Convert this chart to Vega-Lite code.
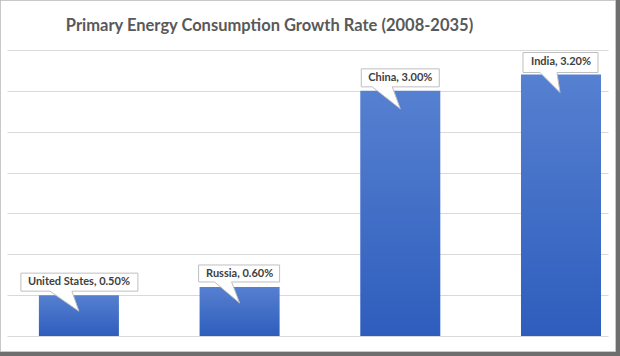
{
  "$schema": "https://vega.github.io/schema/vega-lite/v6.json",
  "width": 615,
  "height": 351,
  "autosize": "none",
  "padding": {"left": 0, "top": 0, "right": 5, "bottom": 5},
  "background": "#6e6e6e",
  "config": {"view": {"fill": "white", "stroke": "#c8c8c8", "strokeWidth": 1}},
  "title": {
    "text": "Primary Energy Consumption Growth Rate (2008-2035)",
    "anchor": "middle",
    "offset": -34,
    "dx": -38,
    "font": "Lato",
    "fontSize": 16.5,
    "fontWeight": "bold",
    "color": "#595959"
  },
  "data": {
    "values": [
      {"country": "United States", "value": 0.5, "label": "United States, 0.50%"},
      {"country": "Russia", "value": 0.6, "label": "Russia, 0.60%"},
      {"country": "China", "value": 3.0, "label": "China, 3.00%"},
      {"country": "India", "value": 3.2, "label": "India, 3.20%"}
    ]
  },
  "encoding": {
    "x": {
      "field": "country",
      "type": "nominal",
      "sort": null,
      "axis": null,
      "scale": {"range": [7, 608], "paddingInner": 0.502, "paddingOuter": 0.121, "align": 0.82}
    },
    "y": {
      "field": "value",
      "type": "quantitative",
      "scale": {"domain": [0, 3.5], "range": [336, 50], "nice": false, "zero": true},
      "axis": {
        "title": null,
        "labels": false,
        "ticks": false,
        "domain": false,
        "grid": true,
        "gridColor": "#d9d9d9",
        "gridWidth": 1,
        "values": [0, 0.5, 1, 1.5, 2, 2.5, 3, 3.5]
      }
    }
  },
  "layer": [
    {
      "mark": {
        "type": "bar",
        "color": {
          "gradient": "linear",
          "x1": 0, "y1": 0, "x2": 0, "y2": 1,
          "stops": [
            {"offset": 0, "color": "#5680d0"},
            {"offset": 1, "color": "#2e5dbd"}
          ]
        }
      }
    },
    {
      "mark": {
        "type": "point",
        "filled": true,
        "size": 4,
        "fill": "white",
        "stroke": "#bfbfbf",
        "strokeWidth": 1,
        "opacity": 1
      },
      "encoding": {
        "shape": {
          "field": "country",
          "type": "nominal",
          "legend": null,
          "scale": {
            "domain": ["United States", "Russia", "China", "India"],
            "range": [
              "M-58,-22H59V-4H-7L0,16L-29,-4H-58Z",
              "M-41,-22H40V-5H-8L0,16L-25,-5H-41Z",
              "M-39,-22H39V-4H-8L0,18L-28,-4H-39Z",
              "M-38,-22H37V-2H-4L-1,18L-21,-2H-38Z"
            ]
          }
        }
      }
    },
    {
      "mark": {
        "type": "text",
        "font": "Lato",
        "fontSize": 11,
        "fontWeight": "bold",
        "color": "#404040",
        "align": "center",
        "baseline": "middle",
        "dy": -13
      },
      "encoding": {"text": {"field": "label"}}
    }
  ]
}
